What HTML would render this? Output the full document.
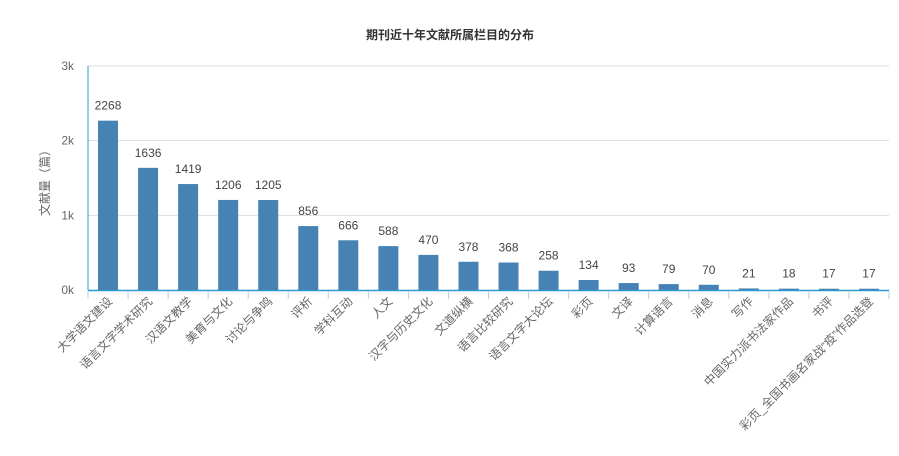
<!DOCTYPE html>
<html><head><meta charset="utf-8"><style>
body{margin:0;background:#fff;font-family:"Liberation Sans","Noto Sans CJK SC",sans-serif;}
svg text{font-family:"Liberation Sans","Noto Sans CJK SC",sans-serif;}
</style></head><body>
<svg id="chart" width="899" height="451" xmlns="http://www.w3.org/2000/svg">
<text x="450" y="39" text-anchor="middle" font-size="12" font-weight="bold" fill="#333">期刊近十年文献所属栏目的分布</text>
<text transform="translate(49,180) rotate(-90)" text-anchor="middle" font-size="12" fill="#666">文献量（篇）</text>
<g id="grid"></g><g id="bars"></g><g id="xlabels"></g>
</svg>
<script>
const categories=["大学语文建设","语言文字学术研究","汉语文教学","美育与文化","讨论与争鸣","评析","学科互动","人文","汉字与历史文化","文道纵横","语言比较研究","语言文字大论坛","彩页","文译","计算语言","消息","写作","中国实力派书法家作品","书评","彩页_全国书画名家战“疫”作品选登"];
const values=[2268,1636,1419,1206,1205,856,666,588,470,378,368,258,134,93,79,70,21,18,17,17];
const yTicks=[0,1000,2000,3000];
const yTickLabels=["0k","1k","2k","3k"];
const NS="http://www.w3.org/2000/svg";
const x0=88,x1=889,y0=290,yTop=66,yMax=3000;
const band=(x1-x0)/categories.length;
function xPos(i){return x0+band*i;}
function yPos(v){return y0-(v/yMax)*(y0-yTop);}
function mk(tag,attrs,parent){const e=document.createElementNS(NS,tag);for(const k in attrs)e.setAttribute(k,attrs[k]);parent.appendChild(e);return e;}
const svg=document.getElementById('chart');
const grid=document.getElementById('grid'),bars=document.getElementById('bars'),xl=document.getElementById('xlabels');
yTicks.forEach((t,i)=>{
  const y=yPos(t);
  if(t>0){const l=mk('line',{x1:x0,x2:x1,y1:y,y2:y,stroke:'#ddd'},grid);
  
  }
  const tx=mk('text',{x:74,y:y+4,'text-anchor':'end','font-size':12,fill:'#666'},grid);
  tx.textContent=yTickLabels[i];
  
  
});
const ya=mk('line',{x1:x0,x2:x0,y1:yTop,y2:y0,stroke:'#2a9ad0'},grid);


const xa=mk('line',{x1:x0,x2:x1,y1:y0+0.5,y2:y0+0.5,stroke:'#2a9ad0','stroke-width':1.5},grid);


for(let i=0;i<=categories.length;i++){
  const t=mk('line',{x1:xPos(i),x2:xPos(i),y1:y0+1,y2:y0+9,stroke:'#b8cde0'},grid);
  
  
}
categories.forEach((c,i)=>{
  const cx=xPos(i)+band/2,y=yPos(values[i]);
  const r=mk('rect',{x:cx-10,y:y,width:20,height:y0-y,fill:'#4682b4'},bars);
  
  
  const v=mk('text',{x:cx,y:y-11,'text-anchor':'middle','font-size':12,fill:'#444'},bars);
  v.textContent=values[i];
  
  
  const lb=mk('text',{transform:`translate(${cx+5},${y0+12}) rotate(-45)`,'text-anchor':'end','font-size':12,fill:'#666'},xl);
  lb.textContent=c;
  
  
});
</script>
</body></html>
